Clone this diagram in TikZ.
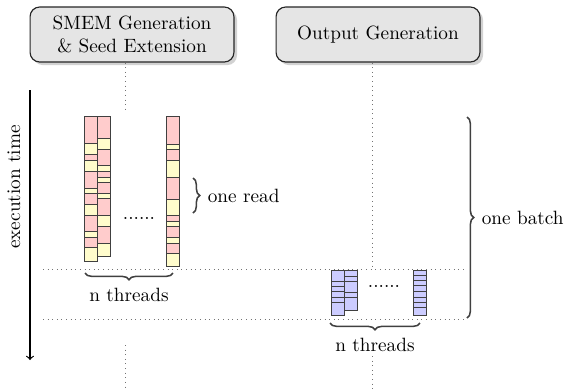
\documentclass[tikz,border=0pt]{standalone}
\usepackage{amsmath}
\usetikzlibrary{shadows,decorations.pathreplacing,positioning}

\tikzset{
  stage/.style={draw=black!85, fill=black!10, rounded corners=5pt, line width=0.6pt,
    minimum width=106pt, minimum height=28.6pt, align=center,
    drop shadow={shadow xshift=1.6pt, shadow yshift=-1.6pt, fill=black!35}},
  seg/.style={draw=black!75, line width=0.5pt},
  lane/.style={draw=black!55, dotted},
  brc/.style={decorate, decoration={brace, amplitude=3.5pt}, draw=black!75, thick}
}

\newcommand\readcol[5]{%
  \foreach \yb [remember=\yb as \yt (initially #2), count=\i] in {#3}{%
    \ifodd\i\def\segcol{#4}\else\def\segcol{#5}\fi
    \draw[seg, fill=\segcol] (#1,\yt) rectangle (#1+13,\yb);}}

\begin{document}
\begin{tikzpicture}[x=0.52pt, y=-0.52pt]
                    \useasboundingbox (0,0) rectangle (566,389);
                    \node[stage] (smem) at (132,34.5) {SMEM Generation\\\& Seed Extension};
                    \node[stage] (outgen) at (378,34.5) {Output Generation};
                    \coordinate (l1) at (125,113);
                    \coordinate (l2) at (372,269);
                    \draw[lane] (smem.south -| l1) -- (l1);
                    \draw[lane] (outgen.south -| l2) -- (l2);
                    \draw[lane] (125,345) -- (125,389);
                    \draw[lane] (372,356) -- (372,389);
                    \coordinate (t1) at (43,269);
                    \coordinate (t2) at (43,319);
                    \draw[lane] (t1) -- (465,269);
                    \draw[lane] (t2) -- (465,319);
                    \draw[->, line width=0.6pt] (30,90) -- (30,360);
                    \node[rotate=90] (time) at (14,187) {execution time};
                    \readcol{84}{116}{143,154,160,171,188,193,204,215,231,237,247,261}{red!20}{yellow!20}
                    \readcol{97.5}{116}{138,149,165,171,177,182,193,198,215,226,243,256}{red!20}{yellow!20}
                    \readcol{166.5}{116}{144,149,160,177,199,215,221,226,237,243,253,266}{red!20}{yellow!20}
                    \readcol{331}{270}{281,286,291,297,302,315}{blue!20}{blue!20}
                    \readcol{344}{270}{276,281,292,297,310}{blue!20}{blue!20}
                    \readcol{413}{270}{275,280,285,291,297,302,307,315}{blue!20}{blue!20}
                    \node (dots1) at (139,218) {......};
                    \node (dots2) at (384,286) {......};
                    \draw[brc] (193,178) -- node[right=4pt] (oneread) {one read} (193,213);
                    \draw[brc] (467,117) -- node[right=4pt] (onebatch) {one batch} (467,318);
                    \draw[brc, decoration={mirror}] (85,273) -- node[below=4pt] (nthr1) {n threads} (173,273);
                    \draw[brc, decoration={mirror}] (330,323) -- node[below=4pt] (nthr2) {n threads} (420,323);
                \end{tikzpicture}
\end{document}
